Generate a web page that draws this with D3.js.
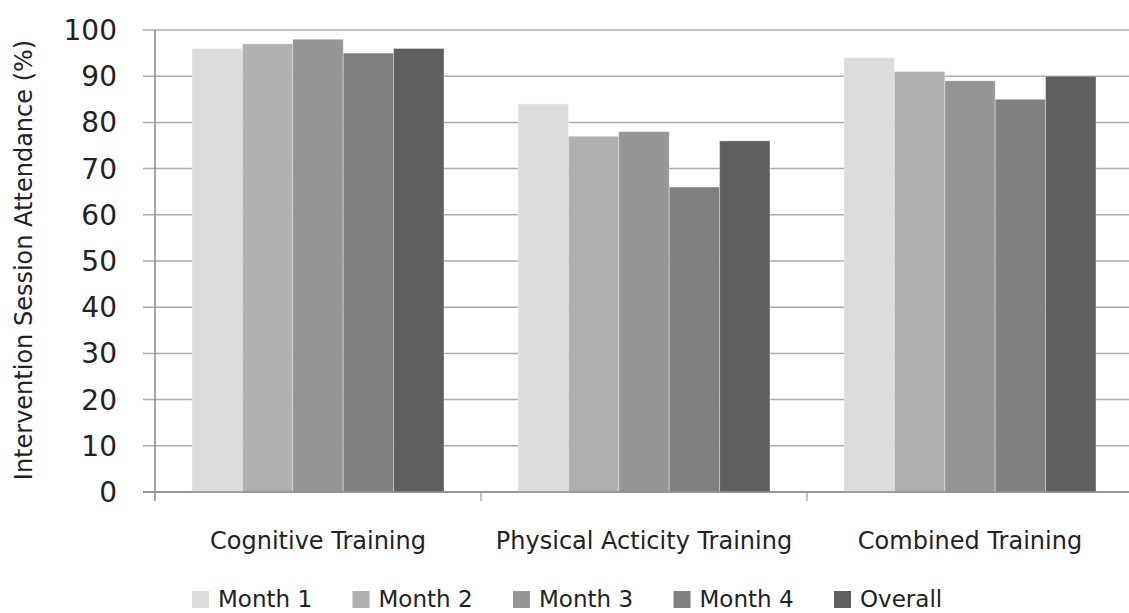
<!DOCTYPE html>
<html>
<head>
<meta charset="utf-8">
<script src="https://cdn.jsdelivr.net/npm/d3@7"></script>
<style>
  body { margin: 0; background: #fff; }
  svg { display: block; font-family: "DejaVu Sans", sans-serif; }
</style>
</head>
<body>
<svg id="chart"></svg>
<script>
const width = 1129;
const height = 613;

// data
const categories = ["Cognitive Training", "Physical Acticity Training", "Combined Training"];
const seriesNames = ["Month 1", "Month 2", "Month 3", "Month 4", "Overall"];
const month1 = [96, 84, 94];
const month2 = [97, 77, 91];
const month3 = [98, 78, 89];
const month4 = [95, 66, 85];
const overall = [96, 76, 90];
const yTicks = [0, 10, 20, 30, 40, 50, 60, 70, 80, 90, 100];

const seriesValues = [month1, month2, month3, month4, overall];
const colors = ["#dcdcdc", "#b0b0b0", "#969696", "#808080", "#5f5f5f"];

const svg = d3.select("#chart")
    .attr("width", width)
    .attr("height", height);

// scales
const x0 = d3.scaleBand()
    .domain(categories)
    .range([155, 1133]);

const bw = x0.bandwidth();
const x1 = d3.scaleBand()
    .domain(seriesNames)
    .range([37, bw - 37]);

const y = d3.scaleLinear()
    .domain([0, 100])
    .range([492, 30]);

const color = d3.scaleOrdinal().domain(seriesNames).range(colors);

// gridlines + y ticks
svg.append("g")
    .selectAll("line")
    .data(yTicks)
    .join("line")
    .attr("x1", 143)
    .attr("x2", width)
    .attr("y1", d => y(d))
    .attr("y2", d => y(d))
    .attr("stroke", "#aaa")
    .attr("stroke-width", 1.5);

// bars
const rows = categories.map((c, i) => ({
    cat: c,
    values: seriesNames.map((s, j) => ({ series: s, value: seriesValues[j][i] }))
}));

svg.append("g")
    .selectAll("g")
    .data(rows)
    .join("g")
    .attr("transform", d => `translate(${x0(d.cat)},0)`)
    .selectAll("rect")
    .data(d => d.values)
    .join("rect")
    .attr("x", d => x1(d.series))
    .attr("y", d => y(d.value))
    .attr("width", x1.bandwidth())
    .attr("height", d => y(0) - y(d.value))
    .attr("fill", d => color(d.series))
    .attr("stroke", "#fff")
    .attr("stroke-opacity", 0.35)
    .attr("stroke-width", 1);

// y axis line
svg.append("line")
    .attr("x1", 155).attr("x2", 155)
    .attr("y1", y(100)).attr("y2", y(0) + 9)
    .attr("stroke", "#888")
    .attr("stroke-width", 1.5);

// x axis line
svg.append("line")
    .attr("x1", 143).attr("x2", width)
    .attr("y1", y(0)).attr("y2", y(0))
    .attr("stroke", "#888")
    .attr("stroke-width", 1.5);

// x ticks at category boundaries
svg.append("g")
    .selectAll("line")
    .data(categories.slice(1))
    .join("line")
    .attr("x1", d => x0(d))
    .attr("x2", d => x0(d))
    .attr("y1", y(0))
    .attr("y2", y(0) + 9)
    .attr("stroke", "#888")
    .attr("stroke-width", 1);

// y tick labels
svg.append("g")
    .selectAll("text")
    .data(yTicks)
    .join("text")
    .attr("x", 117)
    .attr("y", d => y(d))
    .attr("dy", "0.36em")
    .attr("text-anchor", "end")
    .attr("font-size", 28)
    .attr("fill", "#222")
    .text(d => d);

// category labels
svg.append("g")
    .selectAll("text")
    .data(categories)
    .join("text")
    .attr("x", d => x0(d) + bw / 2)
    .attr("y", 549)
    .attr("text-anchor", "middle")
    .attr("font-size", 24)
    .attr("fill", "#222")
    .text(d => d);

// y axis title
svg.append("text")
    .attr("transform", "translate(32,260) rotate(-90)")
    .attr("text-anchor", "middle")
    .attr("font-size", 24)
    .attr("fill", "#222")
    .text("Intervention Session Attendance (%)");

// legend
const legend = svg.append("g")
    .selectAll("g")
    .data(seriesNames)
    .join("g")
    .attr("transform", (d, i) => `translate(${192 + i * 160.5},591)`);

legend.append("rect")
    .attr("width", 17)
    .attr("height", 17)
    .attr("fill", d => color(d));

legend.append("text")
    .attr("x", 26)
    .attr("y", 16)
    .attr("font-size", 23)
    .attr("fill", "#222")
    .text(d => d);
</script>
</body>
</html>
